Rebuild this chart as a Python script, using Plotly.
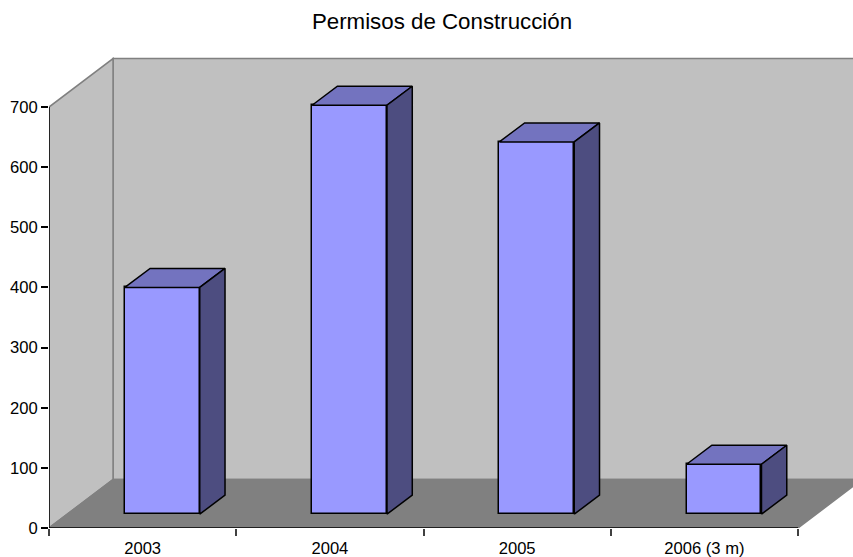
import plotly.graph_objects as go

categories = ["2003", "2004", "2005", "2006 (3 m)"]
values = [377, 680, 619, 83]
y_ticks = [0, 100, 200, 300, 400, 500, 600, 700]

# Pseudo-3D projection, in axis units
FLOOR_BASE = 23
BAR_W = 0.4
BAR_SHIFT = 0.605
BAR_DX, BAR_DY = 0.135, 31.6
WALL_DX, WALL_DY = 0.342, 80.6
N = len(categories)
YMAX = y_ticks[-1]
XMAX = 804 / 187.25
YTOP = 478.5 / 0.602

FRONT, TOP, SIDE = "#9999FF", "#7373BF", "#4D4D80"
WALL, FLOOR, EDGE = "#C0C0C0", "#808080", "#808080"


def path(pts):
    return "M " + " L ".join(f"{x},{y}" for x, y in pts) + " Z"


def wall(pts, fill):
    return dict(type="path", path=path(pts), xref="x", yref="y", fillcolor=fill,
                line=dict(color=EDGE, width=1.5), layer="below")


def axis_line(x0, y0, x1, y1, color="#000000"):
    return dict(type="line", x0=x0, y0=y0, x1=x1, y1=y1, xref="x", yref="y",
                line=dict(color=color, width=1.5), layer="above")


fig = go.Figure()

bx = [i + BAR_SHIFT for i in range(N)]
fig.add_trace(go.Bar(
    x=bx, y=[v for v in values], base=FLOOR_BASE, width=BAR_W,
    marker=dict(color=FRONT, line=dict(color="#000000", width=1.5)),
    showlegend=False, cliponaxis=False,
))

for x, v in zip(bx, values):
    l, r = x - BAR_W / 2, x + BAR_W / 2
    t, b = v + FLOOR_BASE, FLOOR_BASE
    top = [(l, t), (r, t), (r + BAR_DX, t + BAR_DY), (l + BAR_DX, t + BAR_DY), (l, t)]
    side = [(r, b), (r, t), (r + BAR_DX, t + BAR_DY), (r + BAR_DX, b + BAR_DY), (r, b)]
    for poly, col in ((top, TOP), (side, SIDE)):
        fig.add_trace(go.Scatter(
            x=[p[0] for p in poly], y=[p[1] for p in poly], mode="lines",
            fill="toself", fillcolor=col, line=dict(color="#000000", width=1.5),
            showlegend=False, hoverinfo="skip", cliponaxis=False,
        ))

shapes = [
    wall([(WALL_DX, WALL_DY), (WALL_DX, YMAX + WALL_DY), (XMAX + 1, YMAX + WALL_DY), (XMAX + 1, WALL_DY)], WALL),
    wall([(0, 0), (0, YMAX), (WALL_DX, YMAX + WALL_DY), (WALL_DX, WALL_DY)], WALL),
    wall([(0, 0), (WALL_DX, WALL_DY), (XMAX + 1, WALL_DY), (N + WALL_DX, WALL_DY), (N, 0)], FLOOR),
    axis_line(0, 0, 0, YMAX),
    axis_line(0, 0, N, 0),
]

fig.update_layout(
    width=853, height=557, autosize=False,
    margin=dict(l=49, r=0, t=50, b=28.5, pad=0),
    paper_bgcolor="#FFFFFF", plot_bgcolor="#FFFFFF",
    font=dict(family="Liberation Sans, Arial, sans-serif", size=16, color="#000000"),
    title=dict(text="Permisos de Construcción", x=442 / 853, xanchor="center",
               y=1 - 21 / 557, yanchor="middle", font=dict(size=22.3, color="#000000")),
    bargap=0, shapes=shapes, showlegend=False,
    xaxis=dict(
        range=[0, XMAX], showgrid=False, zeroline=False, showline=False, automargin=False,
        tickmode="array", tickvals=[i + 0.5 for i in range(N)], ticktext=categories,
        ticks="", ticklabelstandoff=8, tickfont=dict(size=16.6),
        minor=dict(tickmode="array", tickvals=list(range(N + 1)), ticks="outside",
                   ticklen=7, tickwidth=1.5, tickcolor="#404040", showgrid=False),
    ),
    yaxis=dict(
        range=[0, YTOP], showgrid=False, zeroline=False, showline=False, automargin=False,
        tickmode="array", tickvals=y_ticks, ticks="outside", ticklen=7, tickwidth=1.5,
        tickcolor="#000000", tickfont=dict(size=16.6),
    ),
)

fig.write_html("out.html", default_width="853px", default_height="557px",
               config={"displayModeBar": False},
               post_script="document.body.style.margin='0';")
